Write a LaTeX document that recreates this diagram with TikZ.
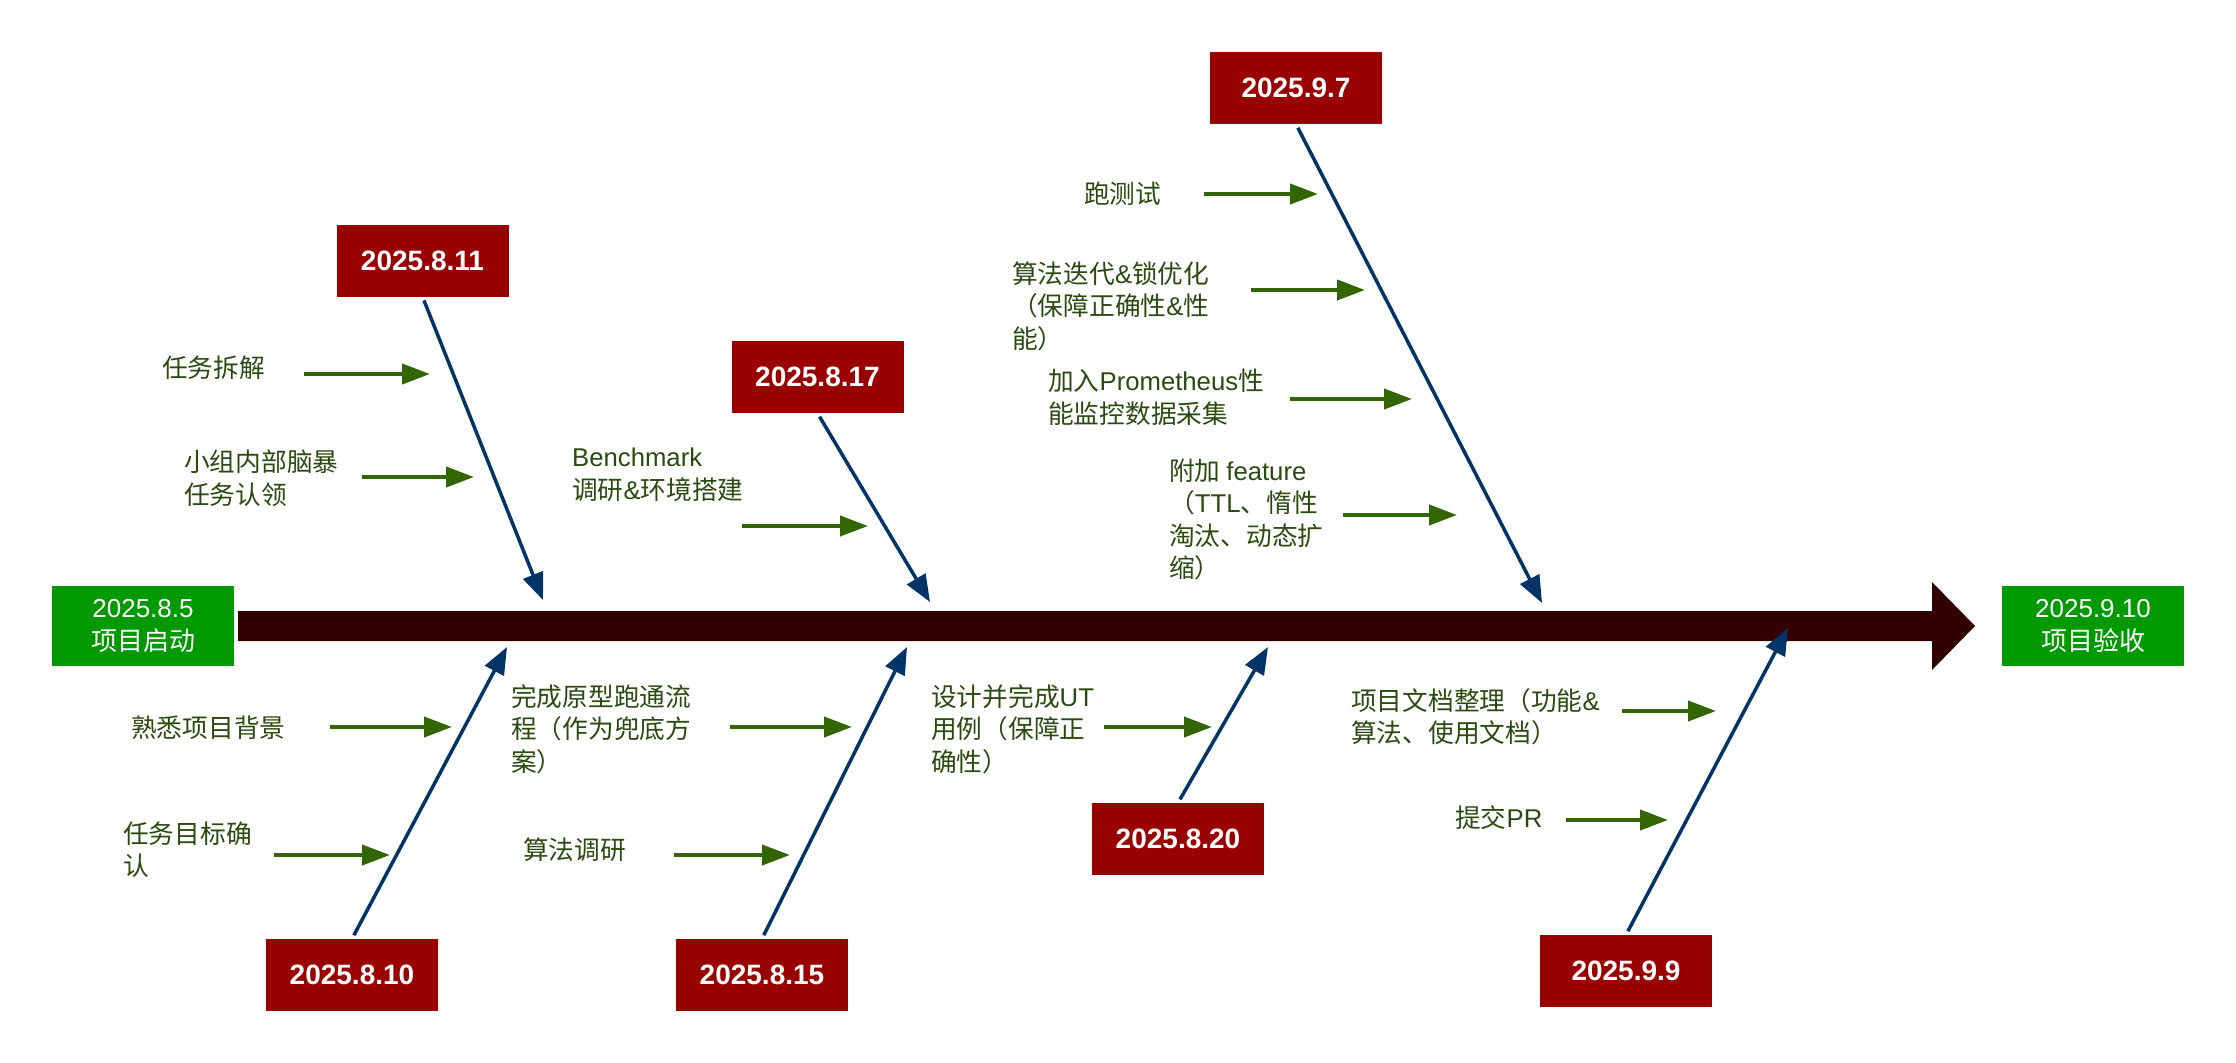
\documentclass[tikz,border=0pt]{standalone}
\usepackage{fontspec}
\setmainfont{Liberation Sans}
\newfontfamily\cjk{Noto Sans CJK SC}
\newfontfamily\latf{Liberation Sans}
\newcommand{\lat}[1]{{\latf #1}}
\usetikzlibrary{arrows.meta}
\definecolor{spinecol}{HTML}{330000}
\definecolor{boxred}{HTML}{990000}
\definecolor{boxgreen}{HTML}{009900}
\definecolor{bonecol}{HTML}{003366}
\definecolor{twigcol}{HTML}{336600}
\definecolor{lblcol}{HTML}{2A4A10}
\begin{document}
\begin{tikzpicture}[x=1pt,y=-1pt,
  datebox/.style={fill=boxred, text=white, minimum width=172pt, minimum height=72pt, inner sep=0pt, font=\fontsize{28}{32}\selectfont\bfseries},
  endbox/.style={fill=boxgreen, text=white, minimum width=182pt, minimum height=80pt, inner sep=0pt, align=center, font=\fontsize{26}{33}\selectfont},
  cause/.style={anchor=west, inner sep=0pt, align=left, text=lblcol, font=\cjk\fontsize{25.7}{32.5}\selectfont},
  bonearrow/.style={draw=bonecol, line width=3.5pt, -{Triangle[length=27pt,width=21pt]}, shorten <=4pt},
  twigarrow/.style={draw=twigcol, line width=4pt, -{Triangle[length=28pt,width=20pt]}}]
\useasboundingbox (0,0) rectangle (2236,1063);
% spine
\fill[spinecol] (238,611) -- (1932,611) -- (1932,582) -- (1975,626) -- (1932,670) -- (1932,641) -- (238,641) -- cycle;
% start and end
\node[endbox] (start) at (143,626) {2025.8.5\\{\cjk 项目启动}};
\node[endbox] (finish) at (2093,626) {2025.9.10\\{\cjk 项目验收}};
% date boxes
\node[datebox] (d811) at (422.5,260.5) {2025.8.11};
\node[datebox] (d817) at (817.5,377) {2025.8.17};
\node[datebox] (d907) at (1296,88) {2025.9.7};
\node[datebox] (d810) at (352,975) {2025.8.10};
\node[datebox] (d815) at (762,975) {2025.8.15};
\node[datebox] (d820) at (1178,839) {2025.8.20};
\node[datebox] (d909) at (1626,971) {2025.9.9};
% bone tips
\coordinate (t811) at (543,600);
\coordinate (t817) at (930,602);
\coordinate (t907) at (1542,603);
\coordinate (t810) at (507,647);
\coordinate (t815) at (907,647);
\coordinate (t820) at (1268,647);
\coordinate (t909) at (1788,628);
\draw[bonearrow] (d811.south) -- (t811);
\draw[bonearrow] (d817.south) -- (t817);
\draw[bonearrow] (d907.south) -- (t907);
\draw[bonearrow] (d810.north) -- (t810);
\draw[bonearrow] (d815.north) -- (t815);
\draw[bonearrow] (d820.north) -- (t820);
\draw[bonearrow] (d909.north) -- (t909);
% cause labels
\node[cause] (c1) at (162,368) {任务拆解};
\node[cause] (c2) at (184,478) {小组内部脑暴\\任务认领};
\node[cause] (c3) at (572,475) {\lat{Benchmark}\\调研\lat{\&}环境搭建};
\node[cause] (c4) at (1084,194) {跑测试};
\node[cause] (c5) at (1012,306) {算法迭代\lat{\&}锁优化\\（保障正确性\lat{\&}性\\能）};
\node[cause] (c6) at (1048,397.5) {加入\lat{Prometheus}性\\能监控数据采集};
\node[cause] (c7) at (1169,519.5) {附加 \lat{feature}\\（\lat{TTL}、惰性\\淘汰、动态扩\\缩）};
\node[cause] (c8) at (131,728) {熟悉项目背景};
\node[cause] (c9) at (123,849.5) {任务目标确\\认};
\node[cause] (c10) at (511,729) {完成原型跑通流\\程（作为兜底方\\案）};
\node[cause] (c11) at (523,850) {算法调研};
\node[cause] (c12) at (931,729) {设计并完成\lat{UT}\\用例（保障正\\确性）};
\node[cause] (c13) at (1351,716.5) {项目文档整理（功能\lat{\&}\\算法、使用文档）};
\node[cause] (c14) at (1455,818) {提交\lat{PR}};
% twig arrows
\coordinate (s1) at (304,374);   \coordinate (e1) at (430,374);
\coordinate (s2) at (362,477);   \coordinate (e2) at (474,477);
\coordinate (s3) at (742,526);   \coordinate (e3) at (868,526);
\coordinate (s4) at (1204,194);  \coordinate (e4) at (1318,194);
\coordinate (s5) at (1251,290);  \coordinate (e5) at (1365,290);
\coordinate (s6) at (1290,399);  \coordinate (e6) at (1412,399);
\coordinate (s7) at (1343,515);  \coordinate (e7) at (1457,515);
\coordinate (s8) at (330,727);   \coordinate (e8) at (452,727);
\coordinate (s9) at (274,855);   \coordinate (e9) at (390,855);
\coordinate (s10) at (730,727);  \coordinate (e10) at (852,727);
\coordinate (s11) at (674,855);  \coordinate (e11) at (790,855);
\coordinate (s12) at (1104,727); \coordinate (e12) at (1212,727);
\coordinate (s13) at (1622,711); \coordinate (e13) at (1716,711);
\coordinate (s14) at (1566,820); \coordinate (e14) at (1668,820);
\foreach \i in {1,...,14} {\draw[twigarrow] (s\i) -- (e\i);}
\end{tikzpicture}
\end{document}
